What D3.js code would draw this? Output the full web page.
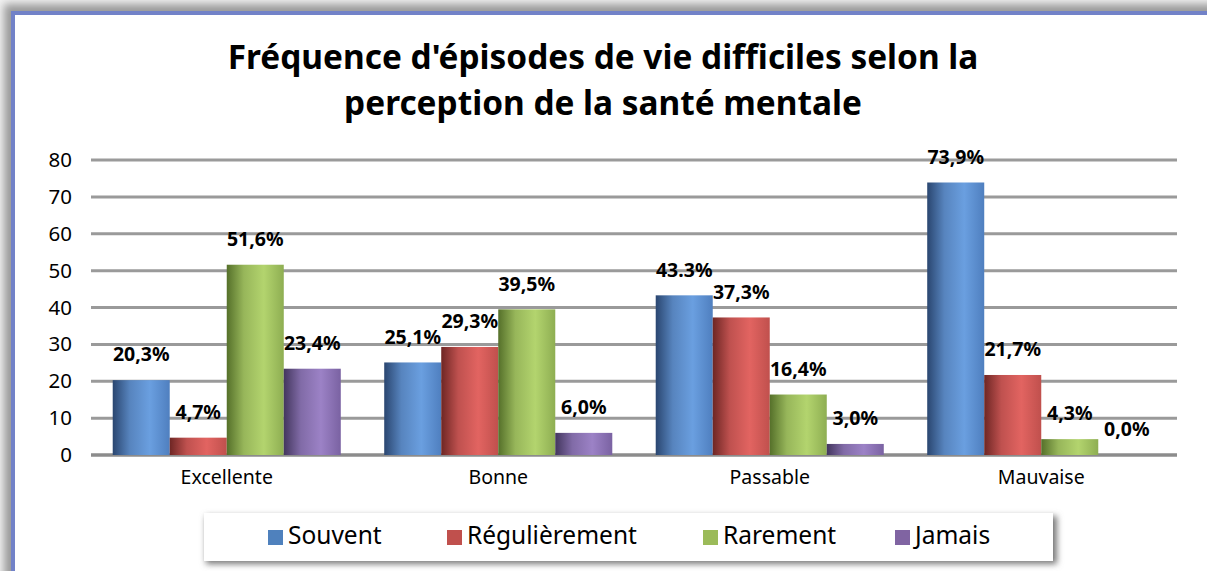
<!DOCTYPE html>
<html><head><meta charset="utf-8">
<script src="https://cdn.jsdelivr.net/npm/d3@7"></script>
<style>
html,body{margin:0;padding:0;background:#fff;}
svg{display:block;font-family:"Noto Sans","Open Sans",sans-serif;}
</style></head>
<body>
<svg id="chart" width="1207" height="571"></svg>
<script>
const categories = ["Excellente", "Bonne", "Passable", "Mauvaise"];
const seriesNames = ["Souvent", "Régulièrement", "Rarement", "Jamais"];
const souvent = [20.3, 25.1, 43.3, 73.9];
const regulierement = [4.7, 29.3, 37.3, 21.7];
const rarement = [51.6, 39.5, 16.4, 4.3];
const jamais = [23.4, 6.0, 3.0, 0.0];
const labelsSouvent = ["20,3%", "25,1%", "43.3%", "73,9%"];
const labelsRegulierement = ["4,7%", "29,3%", "37,3%", "21,7%"];
const labelsRarement = ["51,6%", "39,5%", "16,4%", "4,3%"];
const labelsJamais = ["23,4%", "6,0%", "3,0%", "0,0%"];
const yTicks = [0, 10, 20, 30, 40, 50, 60, 70, 80];
const titleLines = ["Fréquence d'épisodes de vie difficiles selon la", "perception de la santé mentale"];

const seriesValues = [souvent, regulierement, rarement, jamais];
const seriesLabels = [labelsSouvent, labelsRegulierement, labelsRarement, labelsJamais];
const palette = [
  {dark:"#2a4670", mid:"#6a9fe0", edge:"#4f7fbf", flat:"#4f81bd"},
  {dark:"#6e2624", mid:"#e26461", edge:"#c0504d", flat:"#c0504d"},
  {dark:"#55702a", mid:"#b3d46e", edge:"#8eae52", flat:"#9bbb59"},
  {dark:"#43365e", mid:"#9c82c6", edge:"#7a62a2", flat:"#8064a2"}
];

const svg = d3.select("#chart");
const defs = svg.append("defs");

// frame
const sh = defs.append("filter").attr("id","frameShadow").attr("x","-5%").attr("y","-5%").attr("width","110%").attr("height","110%");
sh.append("feGaussianBlur").attr("stdDeviation",4);
svg.append("rect").attr("x",0).attr("y",0).attr("width",1207).attr("height",571).attr("fill","#f2f2f2");
svg.append("rect").attr("x",4).attr("y",4).attr("width",1220).attr("height",600).attr("fill","#9a9a9a").attr("filter","url(#frameShadow)");
svg.append("rect").attr("x",11).attr("y",11).attr("width",1220).attr("height",600).attr("fill","#7282c8");
svg.append("rect").attr("x",15).attr("y",15).attr("width",1220).attr("height",600).attr("fill","#ffffff");

palette.forEach((p,i)=>{
  const g = defs.append("linearGradient").attr("id","grad"+i).attr("x1","0%").attr("x2","100%").attr("y1","0%").attr("y2","0%");
  g.append("stop").attr("offset","0%").attr("stop-color",p.dark);
  g.append("stop").attr("offset","30%").attr("stop-color",d3.interpolateRgb(p.dark,p.mid)(0.7));
  g.append("stop").attr("offset","65%").attr("stop-color",p.mid);
  g.append("stop").attr("offset","100%").attr("stop-color",p.edge);
});

// title (one text element, two lines)
const title = svg.append("text")
  .attr("text-anchor","middle")
  .attr("font-weight","bold").attr("font-size",33.4).attr("fill","#000");
title.selectAll("tspan").data(titleLines).join("tspan")
  .attr("x",603).attr("y",(d,i)=>69+i*45.8)
  .text(d=>d);

const plotLeft = 91, plotRight = 1177, plotTop = 160, plotBottom = 455;
const x0 = d3.scaleBand().domain(categories).range([plotLeft,plotRight]).paddingInner(0.16).paddingOuter(0.08);
const x1 = d3.scaleBand().domain(d3.range(4)).range([0,x0.bandwidth()]).padding(0);
const y = d3.scaleLinear().domain([0,80]).range([plotBottom,plotTop]);

// gridlines
const gsh = defs.append("filter").attr("id","lineShadow").attr("x","-1%").attr("y","-200%").attr("width","102%").attr("height","500%");
gsh.append("feGaussianBlur").attr("stdDeviation",1);
const grid = svg.append("g");
grid.selectAll("line.s").data(yTicks).join("line").attr("class","s")
  .attr("x1",plotLeft).attr("x2",plotRight).attr("y1",d=>y(d)+2).attr("y2",d=>y(d)+2)
  .attr("stroke","#cfcfcf").attr("stroke-width",2).attr("filter","url(#lineShadow)");
grid.selectAll("line.g").data(yTicks).join("line").attr("class","g")
  .attr("x1",plotLeft).attr("x2",plotRight).attr("y1",d=>y(d)).attr("y2",d=>y(d))
  .attr("stroke",d=>d===0?"#8c8c8c":"#9a9a9a").attr("stroke-width",d=>d===0?3.5:3);

// y axis labels
const yAxis = d3.axisLeft(y).tickValues(yTicks).tickSize(0).tickPadding(0);
const yg = svg.append("g").attr("transform",`translate(${plotLeft-19},0)`).call(yAxis);
yg.select(".domain").remove();
yg.selectAll("text").attr("font-size",20.5).attr("font-family","'Noto Sans','Open Sans',sans-serif").attr("fill","#000");

// x axis labels
const xAxis = d3.axisBottom(x0).tickSize(0).tickPadding(0);
const xg = svg.append("g").attr("transform",`translate(0,${plotBottom+15})`).call(xAxis);
xg.select(".domain").remove();
xg.selectAll("text").attr("font-size",19.5).attr("font-family","'Noto Sans','Open Sans',sans-serif").attr("fill","#000");

// bars
const data = [];
categories.forEach((c,ci)=>{
  seriesValues.forEach((s,si)=>{
    data.push({cat:c, s:si, v:s[ci], label:seriesLabels[si][ci]});
  });
});
const bars = svg.append("g");
bars.selectAll("rect").data(data.filter(d=>d.v>0)).join("rect")
  .attr("x",d=>x0(d.cat)+x1(d.s)).attr("width",x1.bandwidth())
  .attr("y",d=>y(d.v)).attr("height",d=>y(0)-y(d.v))
  .attr("fill",d=>`url(#grad${d.s})`);

svg.append("g").selectAll("text").data(data).join("text")
  .attr("x",d=>x0(d.cat)+x1(d.s)+x1.bandwidth()/2)
  .attr("y",d=>y(d.v)-24)
  .attr("text-anchor","middle").attr("dominant-baseline","middle")
  .attr("font-weight","bold").attr("font-size",19.5).attr("fill","#000")
  .text(d=>d.label);

// legend
const lsh = defs.append("filter").attr("id","legShadow").attr("x","-5%").attr("y","-40%").attr("width","110%").attr("height","180%");
lsh.append("feGaussianBlur").attr("stdDeviation",3);
svg.append("rect").attr("x",206).attr("y",516).attr("width",851).attr("height",48).attr("fill","#777").attr("filter","url(#legShadow)");
svg.append("rect").attr("x",204).attr("y",513).attr("width",849).attr("height",48).attr("fill","#fff");
const legX = [268, 447, 703, 895];
const lg = svg.append("g").selectAll("g").data(seriesNames).join("g")
  .attr("transform",(d,i)=>`translate(${legX[i]},530)`);
lg.append("rect").attr("width",15).attr("height",15).attr("fill",(d,i)=>palette[i].flat);
lg.append("text").attr("x",20).attr("y",7.5).attr("dominant-baseline","middle")
  .attr("font-size",24.5).attr("fill","#000").text(d=>d);
</script>
</body></html>
